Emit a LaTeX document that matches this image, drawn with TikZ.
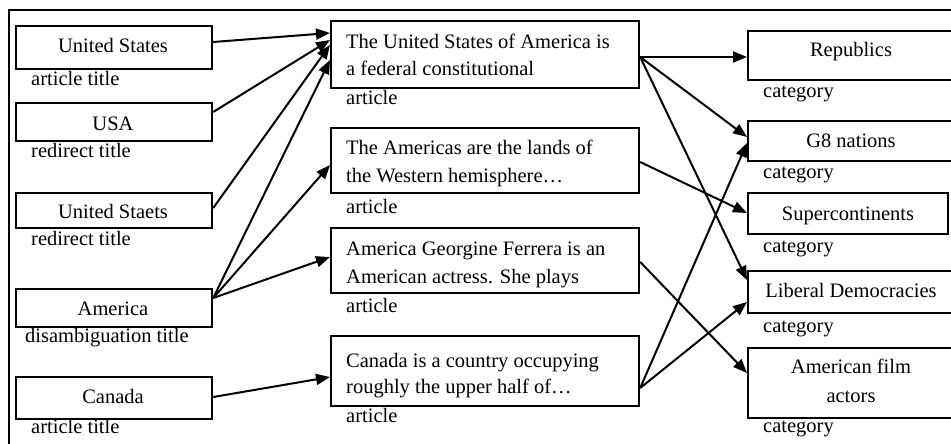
\documentclass[tikz,border=0pt]{standalone}
\usepackage{fontspec}
\setmainfont{Liberation Serif}
\usetikzlibrary{arrows.meta,calc}
\begin{document}
\begin{tikzpicture}[x=1pt,y=-1pt,
  font=\fontsize{20.5}{28}\selectfont,
  box/.style={draw,line width=2.2pt,inner sep=0pt,anchor=north west},
  txt/.style={inner sep=0pt,anchor=base},
  lbl/.style={inner sep=0pt,anchor=base west},
  arr/.style={line width=2pt,-{Triangle[length=14pt,width=11pt]}}]
\useasboundingbox (0,0) rectangle (951,444);
\clip (0,0) rectangle (951,444);
% frame
\draw[line width=2pt] (9,460) coordinate (fb) -- (9,10) coordinate (fc) -- (970,10) coordinate (fe);
% left boxes
\node[box,minimum width=196pt,minimum height=43pt] (L1) at (15,25) {};
\node[box,minimum width=196pt,minimum height=38pt] (L2) at (15,102) {};
\node[box,minimum width=196pt,minimum height=35pt] (L3) at (15,192) {};
\node[box,minimum width=196pt,minimum height=38pt] (L4) at (15,288) {};
\node[box,minimum width=196pt,minimum height=42pt] (L5) at (15,376) {};
\node[txt] (t1) at (113,53) {United States};
\node[txt] (t2) at (113,130) {USA};
\node[txt] (t3) at (113,218) {United Staets};
\node[txt] (t4) at (113,315) {America};
\node[txt] (t5) at (113,403) {Canada};
\node[lbl] (l1) at (31,85) {article title};
\node[lbl] (l2) at (31,157) {redirect title};
\node[lbl] (l3) at (31,245) {redirect title};
\node[lbl] (l4) at (25,342) {disambiguation title};
\node[lbl] (l5) at (31,433) {article title};
% middle boxes
\node[box,minimum width=308pt,minimum height=67pt] (M1) at (330,20) {};
\node[box,minimum width=308pt,minimum height=65pt] (M2) at (330,127) {};
\node[box,minimum width=308pt,minimum height=65pt] (M3) at (330,227) {};
\node[box,minimum width=308pt,minimum height=70pt] (M4) at (330,335) {};
\node[lbl] (m1a) at (346,49) {The United States of America is};
\node[lbl] (m1b) at (346,76) {a federal constitutional};
\node[lbl] (m2a) at (346,154) {The Americas are the lands of};
\node[lbl] (m2b) at (346,182) {the Western hemisphere…};
\node[lbl] (m3a) at (346,255) {America Georgine Ferrera is an};
\node[lbl] (m3b) at (346,283) {American actress. She plays};
\node[lbl] (m4a) at (346,367) {Canada is a country occupying};
\node[lbl] (m4b) at (346,393) {roughly the upper half of…};
\node[lbl] (ma1) at (346,105) {article};
\node[lbl] (ma2) at (346,213) {article};
\node[lbl] (ma3) at (346,312) {article};
\node[lbl] (ma4) at (346,422) {article};
% right boxes
\node[box,minimum width=209pt,minimum height=49pt] (R1) at (747,30) {};
\node[box,minimum width=209pt,minimum height=40pt] (R2) at (747,120) {};
\node[box,minimum width=200pt,minimum height=41pt] (R3) at (747,192) {};
\node[box,minimum width=209pt,minimum height=42pt] (R4) at (747,270) {};
\node[box,minimum width=209pt,minimum height=70pt] (R5) at (747,347) {};
\node[txt] (r1) at (851,57) {Republics};
\node[txt] (r2) at (851,147) {G8 nations};
\node[txt] (r3) at (848,220) {Supercontinents};
\node[txt] (r4) at (851,297) {Liberal Democracies};
\node[txt] (r5a) at (851,373) {American film};
\node[txt] (r5b) at (851,402) {actors};
\node[lbl] (c1) at (763,97) {category};
\node[lbl] (c2) at (763,178) {category};
\node[lbl] (c3) at (763,252) {category};
\node[lbl] (c4) at (763,332) {category};
\node[lbl] (c5) at (763,432) {category};
% connectors left -> middle
\draw[arr] ($(L1.north east)+(0,17)$) -- ($(M1.north west)+(0,13)$);
\draw[arr] ($(L2.north east)+(0,10)$) -- ($(M1.north west)+(0,20)$);
\draw[arr] ($(L3.north east)+(0,16)$) -- ($(M1.north west)+(0,25)$);
\draw[arr] ($(L4.north east)+(0,10)$) -- ($(M1.north west)+(0,40)$);
\draw[arr] ($(L4.north east)+(0,10)$) -- ($(M2.north west)+(0,38)$);
\draw[arr] ($(L4.north east)+(0,10)$) -- ($(M3.north west)+(0,30)$);
\draw[arr] ($(L5.north east)+(0,21)$) -- ($(M4.north west)+(0,42)$);
% connectors middle -> right
\draw[arr] ($(M1.north east)+(0,37)$) -- ($(R1.north west)+(0,27)$);
\draw[arr] ($(M1.north east)+(0,37)$) -- ($(R2.north west)+(0,17)$);
\draw[arr] ($(M1.north east)+(0,37)$) -- ($(R4.north west)+(0,10)$);
\draw[arr] ($(M2.north east)+(0,35)$) -- ($(R3.north west)+(0,21)$);
\draw[arr] ($(M3.north east)+(0,35)$) -- ($(R5.north west)+(0,26)$);
\draw[arr] ($(M4.north east)+(0,53)$) -- ($(R2.north west)+(0,23)$);
\draw[arr] ($(M4.north east)+(0,53)$) -- ($(R4.north west)+(0,32)$);
\end{tikzpicture}
\end{document}
